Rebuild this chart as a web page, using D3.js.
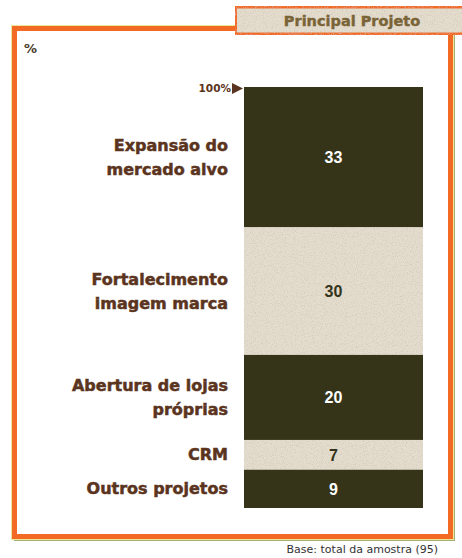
<!DOCTYPE html>
<html><head><meta charset="utf-8">
<script src="https://cdn.jsdelivr.net/npm/d3@7"></script>
<style>
html,body{margin:0;padding:0;background:#fff;}
svg{display:block;}
</style></head>
<body>
<svg id="c" width="462" height="558"></svg>
<script>
const categories = ["Expansão do|mercado alvo", "Fortalecimento|imagem marca", "Abertura de lojas|próprias", "CRM", "Outros projetos"];
const values = [33, 30, 20, 7, 9];
const shades = ["dark", "light", "dark", "light", "dark"];
const title = "Principal Projeto";
const unitLabel = "%";
const topMarker = "100%";
const footnote = "Base: total da amostra (95)";

const svg = d3.select("#c");
const defs = svg.append("defs");
const f = defs.append("filter").attr("id","grain").attr("x",0).attr("y",0).attr("width",1).attr("height",1);
f.append("feTurbulence").attr("type","fractalNoise").attr("baseFrequency",0.9).attr("numOctaves",2).attr("seed",3).attr("result","n");
f.append("feColorMatrix").attr("in","n").attr("type","matrix")
 .attr("values","0 0 0 0 0.55  0 0 0 0 0.5  0 0 0 0 0.42  0 0 0 -1.6 0.85").attr("result","a");
f.append("feComposite").attr("in","a").attr("in2","SourceGraphic").attr("operator","atop");

const ORANGE = "#f26a24", DARK = "#353418", LIGHT = "#e4dccd", BROWN = "#5b3420";
const LABEL_FONT = "DejaVu Sans";

// frame
const fr = {x:14.5, y:28.5, w:436, h:508};
svg.append("rect").attr("x",fr.x+2).attr("y",fr.y+2).attr("width",fr.w).attr("height",fr.h)
  .attr("fill","none").attr("stroke","#a7b070").attr("stroke-width",5);
svg.append("rect").attr("x",fr.x-1).attr("y",fr.y-1).attr("width",fr.w+2).attr("height",fr.h+2)
  .attr("fill","none").attr("stroke","#ebe69a").attr("stroke-width",5);
svg.append("rect").attr("x",fr.x).attr("y",fr.y).attr("width",fr.w).attr("height",fr.h)
  .attr("fill","#fff").attr("stroke",ORANGE).attr("stroke-width",5);

// title tab
svg.append("rect").attr("x",235).attr("y",6.5).attr("width",240).attr("height",28)
  .attr("fill",LIGHT).attr("stroke",ORANGE).attr("stroke-width",4).attr("filter","url(#grain)");
svg.append("text").attr("x",352).attr("y",26).attr("text-anchor","middle")
  .attr("font-family",LABEL_FONT).attr("font-weight",700).attr("font-size",14.5)
  .attr("fill","#7a6437").attr("stroke","#7a6437").attr("stroke-width",0.4).text(title);

svg.append("text").attr("x",24).attr("y",53).attr("font-family",LABEL_FONT).attr("font-weight",700)
  .attr("font-size",13).attr("fill","#4a3a2a").text(unitLabel);

// scales
const total = d3.sum(values);
const y = d3.scaleLinear().domain([0,total]).range([87,508]);
const x0 = 244, x1 = 423;
const stacked = values.map((v,i)=>({v, i, start:d3.sum(values.slice(0,i)), cat:categories[i], shade:shades[i]}));

const g = svg.append("g");
g.selectAll("rect.seg").data(stacked).join("rect").attr("class","seg")
  .attr("x",x0).attr("width",x1-x0)
  .attr("y",d=>y(d.start)).attr("height",d=>y(d.start+d.v)-y(d.start))
  .attr("fill",d=>d.shade==="dark"?DARK:LIGHT)
  .attr("filter",d=>d.shade==="dark"?null:"url(#grain)");

g.selectAll("text.val").data(stacked).join("text").attr("class","val")
  .attr("x",(x0+x1)/2).attr("y",d=>(y(d.start)+y(d.start+d.v))/2+6)
  .attr("text-anchor","middle").attr("font-family","Liberation Sans").attr("font-weight",700)
  .attr("font-size",16).attr("fill",d=>d.shade==="dark"?"#fff":"#34341a").text(d=>d.v);

// category labels
stacked.forEach(d=>{
  const lines = d.cat.split("|");
  const cy = (y(d.start)+y(d.start+d.v))/2;
  const lh = 24;
  const t = g.append("text").attr("text-anchor","end").attr("font-family",LABEL_FONT).attr("font-weight",700)
    .attr("font-size",16).attr("fill",BROWN).attr("stroke",BROWN).attr("stroke-width",0.5);
  lines.forEach((l,k)=>{
    t.append("tspan").attr("x",228).attr("y",cy - (lines.length-1)*lh/2 + k*lh + 5.5).text(l);
  });
});

// 100% marker
svg.append("text").attr("x",231).attr("y",92).attr("text-anchor","end").attr("font-family",LABEL_FONT)
  .attr("font-weight",700).attr("font-size",10.5).attr("fill",BROWN).text(topMarker);
svg.append("path").attr("d",`M232,83 L243,88.5 L232,94 Z`).attr("fill",BROWN);

svg.append("text").attr("x",438).attr("y",553).attr("text-anchor","end").attr("font-family",LABEL_FONT)
  .attr("font-size",11).attr("fill","#333").text(footnote);
</script>
</body></html>
